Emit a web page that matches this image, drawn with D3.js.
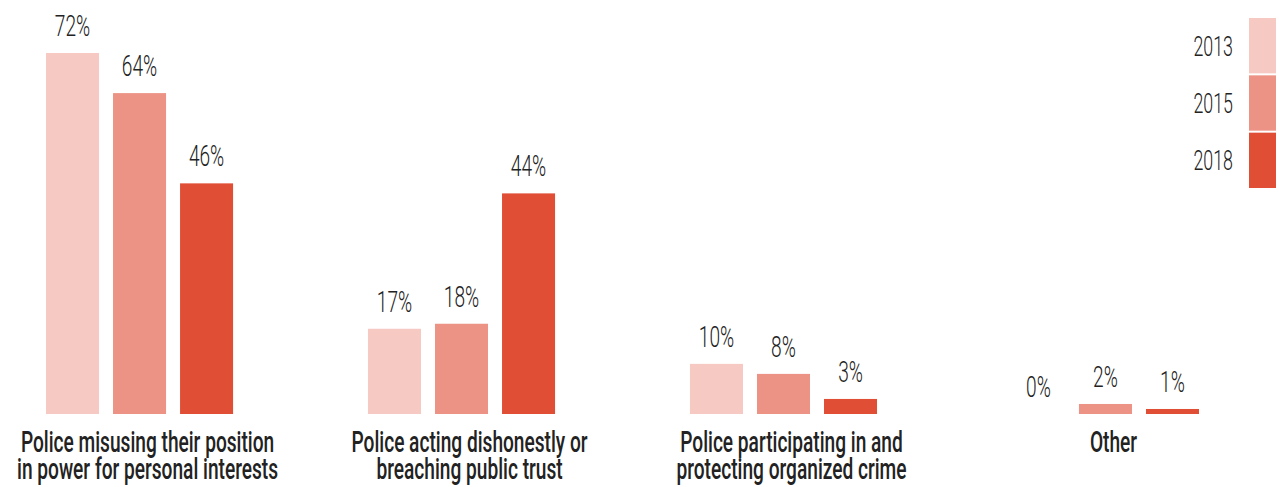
<!DOCTYPE html>
<html>
<head>
<meta charset="utf-8">
<script src="https://cdn.jsdelivr.net/npm/d3@7"></script>
<style>
  body { margin: 0; background: #fff; }
  svg text { font-family: Roboto, "DejaVu Sans Condensed", sans-serif; fill: #222; }
</style>
</head>
<body>
<div id="chart"></div>
<script>
// data
const categories = [
  "Police misusing their position|in power for personal interests",
  "Police acting dishonestly or|breaching public trust",
  "Police participating in and|protecting organized crime",
  "Other"
];
const years = ["2013", "2015", "2018"];
const values2013 = [72, 17, 10, 0];
const values2015 = [64, 18, 8, 2];
const values2018 = [46, 44, 3, 1];
const colors = ["#f6c9c2", "#ec9385", "#e14e36"];

const width = 1279, height = 487;
const baseline = 414;
const squeeze = 0.66; // fake a condensed face

const svg = d3.select("#chart").append("svg")
  .attr("width", width)
  .attr("height", height);

const series = [values2013, values2015, values2018];
const rows = categories.map((c, i) => ({
  cat: c,
  vals: years.map((y, j) => ({ year: y, value: series[j][i] }))
}));

const x0 = d3.scaleBand()
  .domain(categories)
  .range([46, 1199])
  .paddingInner(0.419)
  .paddingOuter(0);

const x1 = d3.scaleBand()
  .domain(years)
  .range([0, x0.bandwidth()])
  .paddingInner(0.209)
  .paddingOuter(0);

const y = d3.scaleLinear()
  .domain([0, 72])
  .range([baseline, 53]);

const color = d3.scaleOrdinal().domain(years).range(colors);

const groups = svg.selectAll(".group")
  .data(rows)
  .join("g")
  .attr("class", "group")
  .attr("transform", d => `translate(${x0(d.cat)},0)`);

groups.selectAll("rect")
  .data(d => d.vals)
  .join("rect")
  .attr("x", d => x1(d.year))
  .attr("y", d => y(d.value))
  .attr("width", x1.bandwidth())
  .attr("height", d => baseline - y(d.value))
  .attr("fill", d => color(d.year));

groups.selectAll(".val")
  .data(d => d.vals)
  .join("text")
  .attr("class", "val")
  .attr("transform", d => `translate(${x1(d.year) + x1.bandwidth() / 2},${y(d.value) - 17}) scale(${squeeze},1)`)
  .attr("text-anchor", "middle")
  .attr("font-size", 29)
  .attr("font-weight", 300)
  .text(d => d.value + "%");

// category labels, one text per line
groups.selectAll(".cat")
  .data(d => d.cat.split("|"))
  .join("text")
  .attr("class", "cat")
  .attr("transform", (d, i) => `translate(${x0.bandwidth() / 2 + 8},${452 + i * 27}) scale(0.66,1)`)
  .attr("text-anchor", "middle")
  .attr("font-size", 29)
  .attr("font-weight", 500)
  .text(d => d);

// legend
const ly = d3.scaleBand().domain(years).range([18, 188]).paddingInner(0.035);
const legend = svg.append("g");
legend.selectAll("rect")
  .data(years)
  .join("rect")
  .attr("x", 1249)
  .attr("y", d => ly(d))
  .attr("width", 27)
  .attr("height", ly.bandwidth())
  .attr("fill", d => color(d));
legend.selectAll("text")
  .data(years)
  .join("text")
  .attr("transform", d => `translate(1233,${ly(d) + ly.bandwidth() / 2 + 10}) scale(${squeeze},1)`)
  .attr("text-anchor", "end")
  .attr("font-size", 27)
  .attr("font-weight", 300)
  .text(d => d);
</script>
</body>
</html>
